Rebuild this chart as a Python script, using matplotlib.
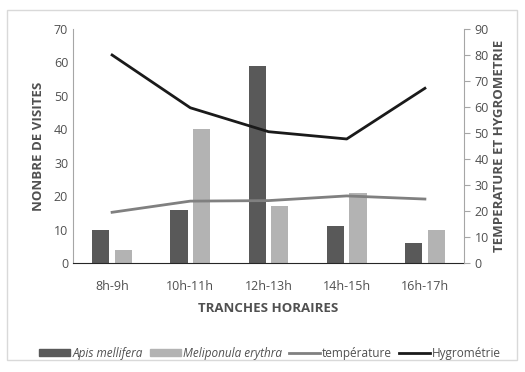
import matplotlib
matplotlib.use("Agg")
import matplotlib.pyplot as plt
import numpy as np
from matplotlib.patches import Rectangle
from matplotlib.lines import Line2D
from matplotlib.patches import Patch

plt.rcParams['font.family'] = ['Open Sans', 'DejaVu Sans']

categories = ["8h-9h", "10h-11h", "12h-13h", "14h-15h", "16h-17h"]
apis = [10, 16, 59, 11, 6]
meliponula = [4, 40, 17, 21, 10]
temperature = [19.5, 23.8, 24.0, 25.8, 24.6]
hygrometrie = [80, 59.7, 50.5, 47.7, 67.2]

txt = "#505050"
fig = plt.figure(figsize=(5.25, 3.72), dpi=100)
fig.patches.append(Rectangle((7/525, 1 - 360/372), 510/525, 350/372, transform=fig.transFigure,
                             fill=False, edgecolor="#d9d9d9", linewidth=1))
ax = fig.add_axes([73/525, 1 - 263/372, (464 - 73)/525, (263 - 29)/372])
x = np.arange(len(categories))
w = 0.22
ax.bar(x - 0.145, apis, w, color="#595959", zorder=2)
ax.bar(x + 0.145, meliponula, w, color="#b3b3b3", zorder=2)
ax.set_xlim(-0.5, 4.5)
ax.set_ylim(0, 70)
ax.set_yticks(range(0, 71, 10))
ax.set_xticks(x)
ax.set_xticklabels(categories)
ax.tick_params(axis='both', colors=txt, labelsize=9, length=0)
ax.tick_params(axis='x', pad=12)
for s in ["top", "right"]:
    ax.spines[s].set_visible(False)
ax.spines["left"].set_color("#a6a6a6")
ax.spines["bottom"].set_color("#262626")
ax.set_ylabel("NONBRE DE VISITES", color=txt, fontsize=9.5, fontweight="bold", labelpad=6)
ax.set_xlabel("TRANCHES HORAIRES", color=txt, fontsize=9.5, fontweight="bold", labelpad=7)

ax2 = ax.twinx()
ax2.plot(x, temperature, color="#808080", linewidth=2, zorder=3)
ax2.plot(x, hygrometrie, color="#1a1a1a", linewidth=2, zorder=3)
ax2.set_ylim(0, 90)
ax2.set_yticks(range(0, 91, 10))
ax2.tick_params(axis='y', colors=txt, labelsize=9, length=4)
ax2.tick_params(axis='y', color="#a6a6a6")
for s in ["top", "left", "bottom"]:
    ax2.spines[s].set_visible(False)
ax2.spines["right"].set_color("#a6a6a6")
ax2.set_ylabel("TEMPERATURE ET HYGROMETRIE", color=txt, fontsize=9.5, fontweight="bold", labelpad=3)

handles = [Patch(color="#595959"), Patch(color="#b3b3b3"),
           Line2D([], [], color="#808080", linewidth=2), Line2D([], [], color="#1a1a1a", linewidth=2)]
labels = ["Apis mellifera", "Meliponula erythra", "température", "Hygrométrie"]
leg = fig.legend(handles, labels, loc="center", bbox_to_anchor=(0.515, 1 - 353/372), ncol=4,
                 frameon=False, fontsize=8.5, handlelength=2.6, handleheight=0.5, columnspacing=0.6,
                 handletextpad=0.2, labelcolor=txt)
for t in leg.get_texts()[:2]:
    t.set_style("italic")
fig.savefig("out.png", dpi=100)
